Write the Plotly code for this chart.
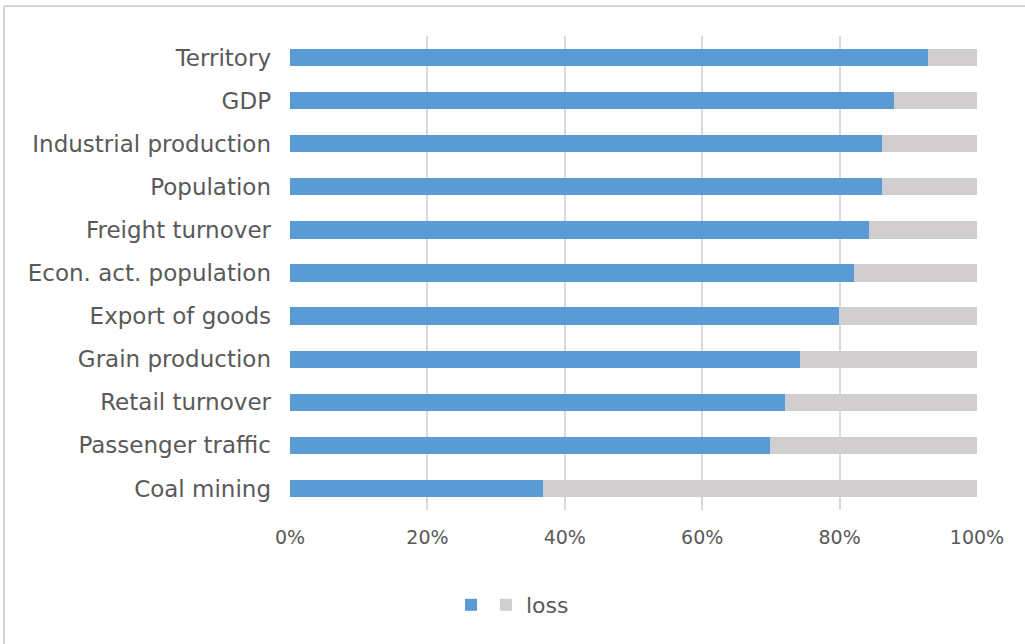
import plotly.graph_objects as go

categories = ["Territory", "GDP", "Industrial production", "Population", "Freight turnover",
              "Econ. act. population", "Export of goods", "Grain production", "Retail turnover",
              "Passenger traffic", "Coal mining"]
remaining = [92.9, 87.9, 86.2, 86.2, 84.3, 82.1, 79.9, 74.2, 72.1, 69.9, 36.8]
loss = [round(100 - v, 1) for v in remaining]
x_ticks = [0, 20, 40, 60, 80, 100]
x_tick_labels = ["0%", "20%", "40%", "60%", "80%", "100%"]

FONT = "DejaVu Sans"
TXT = "#595959"
FRAME = "#D6D6D6"

fig = go.Figure()
fig.add_trace(go.Bar(y=categories, x=remaining, orientation="h", name="",
                     marker=dict(color="#5B9BD5", line=dict(width=0)), legend="legend2"))
fig.add_trace(go.Bar(y=categories, x=loss, orientation="h", name="loss",
                     marker=dict(color="#D0CECE", line=dict(width=0)), legend="legend"))

fig.update_layout(
    barmode="stack",
    bargap=0.6,
    width=1025, height=644,
    margin=dict(l=290, r=48, t=36, b=134),
    paper_bgcolor="white", plot_bgcolor="white",
    font=dict(family=FONT, color=TXT),
    showlegend=True,
    legend=dict(orientation="h", x=0.2853, xanchor="left", y=-0.2004, yanchor="middle",
                font=dict(size=22, color=TXT, family=FONT), bgcolor="rgba(0,0,0,0)"),
    legend2=dict(orientation="h", x=0.2344, xanchor="left", y=-0.2004, yanchor="middle",
                 font=dict(size=22, color=TXT, family=FONT), bgcolor="rgba(0,0,0,0)"),
    xaxis=dict(range=[0, 100], tickvals=x_ticks, ticktext=x_tick_labels,
               showgrid=True, gridcolor="#D9D9D9", gridwidth=1.5, zeroline=False,
               tickfont=dict(size=19, color=TXT, family=FONT), ticks="",
               ticklabelstandoff=14, fixedrange=True),
    yaxis=dict(categoryorder="array", categoryarray=categories[::-1],
               tickfont=dict(size=23, color=TXT, family=FONT), ticks="", showline=False,
               ticklabelstandoff=18),
    shapes=[
        dict(type="line", xref="paper", yref="paper",
             x0=-0.4163, x1=1.08, y0=1.0633, y1=1.0633,
             line=dict(color=FRAME, width=2)),
        dict(type="line", xref="paper", yref="paper",
             x0=-0.4163, x1=-0.4163, y0=-0.3, y1=1.0633,
             line=dict(color=FRAME, width=2)),
    ],
)

fig.write_html("out.html",
               config={"displayModeBar": False},
               post_script="document.body.style.margin='0px';document.body.style.overflow='hidden';")
